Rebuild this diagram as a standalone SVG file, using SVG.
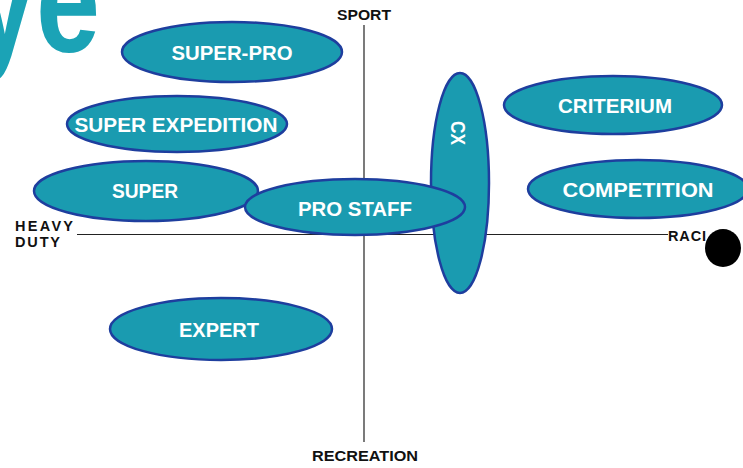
<svg xmlns="http://www.w3.org/2000/svg" width="743" height="468" viewBox="0 0 743 468">
<style>
.n{fill:#1a9bb0;stroke:#1e3e9e;stroke-width:2.5}
.t{fill:#ffffff;font-family:"Liberation Sans",Arial,sans-serif;font-weight:bold;font-size:20px;text-anchor:middle}
.a{fill:#111111;font-family:"Liberation Sans",Arial,sans-serif;font-weight:bold;font-size:14.5px}
.ax{stroke:#222222;stroke-width:1.2;fill:none}
</style>
<rect width="743" height="468" fill="#ffffff"/>
<text x="100" y="52" font-family="Liberation Sans,Arial,sans-serif" font-weight="bold" font-size="150" fill="#1ba3b6" text-anchor="end" textLength="128" lengthAdjust="spacingAndGlyphs">ye</text>
<g id="connectors">
<line class="ax" x1="364" y1="25" x2="364" y2="442" stroke="#555"/>
<line class="ax" x1="77" y1="234.5" x2="668" y2="234.5"/>
</g>
<g id="axis-labels">
<text class="a" x="364" y="20" text-anchor="middle" textLength="54" lengthAdjust="spacingAndGlyphs">SPORT</text>
<text class="a" x="365" y="461" text-anchor="middle" textLength="106" lengthAdjust="spacingAndGlyphs">RECREATION</text>
<text class="a" x="15" y="231" textLength="58">HEAVY</text>
<text class="a" x="15" y="247" textLength="45">DUTY</text>
<text class="a" x="668" y="241" textLength="38">RACI</text>
</g>
<g id="super-pro"><ellipse class="n" cx="232" cy="52" rx="110" ry="30"/><text class="t" x="232" y="60" textLength="121" lengthAdjust="spacingAndGlyphs">SUPER-PRO</text></g>
<g id="super-expedition"><ellipse class="n" cx="177" cy="124" rx="110" ry="28"/><text class="t" x="176" y="132" textLength="203" lengthAdjust="spacingAndGlyphs">SUPER EXPEDITION</text></g>
<g id="expert"><ellipse class="n" cx="221" cy="329" rx="111" ry="31"/><text class="t" x="219" y="337" textLength="80" lengthAdjust="spacingAndGlyphs">EXPERT</text></g>
<g id="criterium"><ellipse class="n" cx="613" cy="105" rx="109" ry="29"/><text class="t" x="615" y="113" textLength="114" lengthAdjust="spacingAndGlyphs">CRITERIUM</text></g>
<g id="competition"><ellipse class="n" cx="638" cy="189" rx="110" ry="29"/><text class="t" x="638" y="197" textLength="151" lengthAdjust="spacingAndGlyphs">COMPETITION</text></g>
<g id="cx"><ellipse class="n" cx="460" cy="183" rx="29" ry="110"/><text class="t" transform="translate(451 133) rotate(90)" x="0" y="0" textLength="24" lengthAdjust="spacingAndGlyphs">CX</text></g>
<g id="super"><ellipse class="n" cx="146" cy="191" rx="112" ry="30"/><text class="t" x="145" y="198" textLength="66" lengthAdjust="spacingAndGlyphs">SUPER</text></g>
<g id="pro-staff"><ellipse class="n" cx="355" cy="207" rx="110" ry="28"/><text class="t" x="355" y="216" textLength="114" lengthAdjust="spacingAndGlyphs">PRO STAFF</text></g>
<ellipse cx="723" cy="248" rx="18" ry="19" fill="#000000"/>
</svg>
